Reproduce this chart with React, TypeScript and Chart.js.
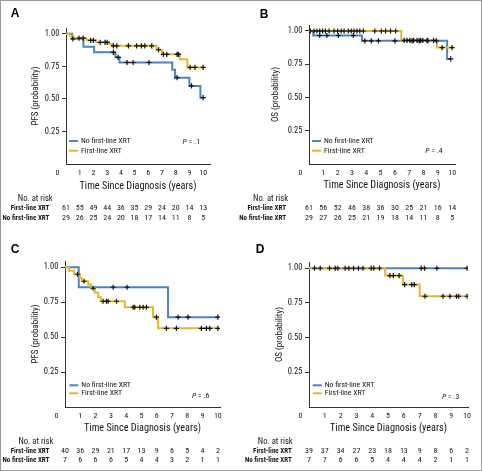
import React, { useEffect, useRef } from 'react';
import { Chart, registerables } from 'chart.js';

Chart.register(...registerables);

const BLUE = '#4a84c1';
const YELLOW = '#e4b927';
const NARROW = '"Roboto Condensed", "Liberation Sans", Arial, sans-serif';
const BOLDFONT = '"Liberation Sans", Arial, sans-serif';
const TEXT = '#151515';

const NO_LABEL = 'No first-line XRT';
const FIRST_LABEL = 'First-line XRT';
const X_TITLE = 'Time Since Diagnosis (years)';
const RISK_HEADER = 'No. at risk';

const yearTicks = [1, 2, 3, 4, 5, 6, 7, 8, 9, 10];
const riskYears = [0, 1, 2, 3, 4, 5, 6, 7, 8, 9, 10];
const probTicks = [0.25, 0.5, 0.75, 1.0];

// ---------- Panel A (PFS) ----------
const aNoTimes = [0, 0.45, 1.27, 2.05, 3.6, 3.9, 7.75, 7.95, 9.0, 9.8, 10.0];
const aNoSurv = [1, 0.962, 0.9, 0.858, 0.82, 0.78, 0.725, 0.663, 0.6, 0.51, 0.51];
const aNoCensor = [0.5, 3.45, 3.8, 4.45, 4.9, 6.05, 8.1, 9.15, 10.0];
const aFirstTimes = [0, 0.3, 0.55, 1.5, 2.2, 3.15, 3.35, 6.6, 7.0, 8.3, 8.85, 10.0];
const aFirstSurv = [1, 0.984, 0.967, 0.95, 0.935, 0.922, 0.908, 0.878, 0.843, 0.805, 0.742, 0.742];
const aFirstCensor = [0.95, 1.25, 1.8, 2.0, 2.5, 2.85, 3.0, 3.45, 3.7, 4.55, 5.15, 5.5, 5.75, 6.25, 6.75, 7.1, 7.35, 8.1, 8.2, 9.05, 9.4, 10.0];
const aRiskFirst = [61, 55, 49, 44, 36, 35, 29, 24, 20, 14, 13];
const aRiskNo = [29, 26, 25, 24, 20, 18, 17, 14, 11, 8, 5];

// ---------- Panel B (OS) ----------
const bNoTimes = [0, 0.3, 3.7, 9.65, 9.9];
const bNoSurv = [1, 0.966, 0.926, 0.79, 0.79];
const bNoCensor = [0.75, 1.25, 2.05, 3.1, 3.9, 4.35, 4.85, 6.0, 7.2, 7.7, 8.3, 8.9, 9.9];
const bFirstTimes = [0, 6.45, 8.95, 10.0];
const bFirstSurv = [1, 0.93, 0.875, 0.875];
const bFirstCensor = [0.1, 0.35, 0.55, 0.75, 0.95, 1.15, 1.4, 1.75, 2.0, 2.25, 2.45, 2.75, 2.95, 3.15, 3.35, 3.55, 3.8, 4.6, 5.05, 5.35, 5.7, 6.05, 6.65, 6.85, 7.05, 7.3, 7.55, 7.8, 7.95, 8.25, 8.7, 9.3, 10.0];
const bRiskFirst = [61, 56, 52, 46, 38, 36, 30, 25, 21, 16, 14];
const bRiskNo = [29, 27, 26, 25, 21, 19, 18, 14, 11, 8, 5];

// ---------- Panel C (PFS) ----------
const cNoTimes = [0, 0.9, 6.74, 10.0];
const cNoSurv = [1, 0.857, 0.643, 0.643];
const cNoCensor = [3.15, 4.06, 7.4, 8.05, 10.0];
const cFirstTimes = [0, 0.25, 0.6, 0.97, 1.1, 1.51, 1.7, 1.95, 2.17, 2.34, 3.91, 5.76, 6.09, 10.0];
const cFirstSurv = [1, 0.975, 0.95, 0.924, 0.9, 0.876, 0.85, 0.817, 0.786, 0.757, 0.714, 0.643, 0.563, 0.563];
const cFirstCensor = [0.82, 1.25, 1.84, 2.49, 2.71, 2.82, 3.37, 4.46, 4.56, 4.89, 5.11, 5.33, 5.98, 6.63, 7.29, 8.92, 9.25, 9.47, 10.0];
const cRiskFirst = [40, 36, 29, 21, 17, 13, 9, 6, 5, 4, 2];
const cRiskNo = [7, 6, 6, 6, 5, 4, 4, 3, 2, 1, 1];

// ---------- Panel D (OS) ----------
const dNoTimes = [0, 10.0];
const dNoSurv = [1, 1];
const dNoCensor = [7.1, 7.31, 8.09, 10.0];
const dFirstTimes = [0, 4.82, 5.94, 7.0, 10.0];
const dFirstSurv = [1, 0.947, 0.882, 0.798, 0.798];
const dFirstCensor = [0.35, 0.71, 1.3, 1.66, 1.82, 2.29, 2.52, 2.82, 3.13, 3.41, 3.93, 4.1, 4.46, 5.12, 5.34, 5.7, 6.05, 6.5, 6.66, 7.34, 8.48, 8.92, 9.33, 9.47, 10.0];
const dRiskFirst = [39, 37, 34, 27, 23, 18, 13, 9, 8, 6, 2];
const dRiskNo = [7, 7, 6, 6, 5, 4, 4, 4, 2, 1, 1];

type Series = { label: string; color: string; times: number[]; surv: number[]; censor: number[] };
type Panel = {
  letter: string;
  canvas: { x: number; y: number; w: number; h: number };
  area: { l: number; t: number; r: number; b: number };
  xMax: number;
  yMax: number;
  yTitle: string;
  yTitleX: number;
  xTitleY: number;
  letterPos: [number, number];
  legendX: number;
  legendYs: [number, number];
  pValue: string;
  pRight: number;
  pY: number;
  riskHeaderRight: number;
  riskLabelRight: number;
  riskYs: [number, number, number];
  series: Series[];
  riskFirst: number[];
  riskNo: number[];
};

const panels: Panel[] = [
  {
    letter: 'A',
    canvas: { x: 0, y: 0, w: 236, h: 234 },
    area: { l: 66, t: 28, r: 210, b: 164 },
    xMax: 10.5, yMax: 1.045,
    yTitle: 'PFS (probability)', yTitleX: 35.5, xTitleY: 186,
    letterPos: [15, 13.5],
    legendX: 69, legendYs: [141, 150.7],
    pValue: '.1', pRight: 200, pY: 142.3,
    riskHeaderRight: 52.7, riskLabelRight: 49.3, riskYs: [199, 208.3, 218.3],
    series: [
      { label: NO_LABEL, color: BLUE, times: aNoTimes, surv: aNoSurv, censor: aNoCensor },
      { label: FIRST_LABEL, color: YELLOW, times: aFirstTimes, surv: aFirstSurv, censor: aFirstCensor },
    ],
    riskFirst: aRiskFirst, riskNo: aRiskNo,
  },
  {
    letter: 'B',
    canvas: { x: 230, y: 0, w: 252, h: 234 },
    area: { l: 309, t: 25, r: 455, b: 164 },
    xMax: 10.2, yMax: 1.045,
    yTitle: 'OS (probability)', yTitleX: 276, xTitleY: 185.5,
    letterPos: [264, 15],
    legendX: 312, legendYs: [141, 150.7],
    pValue: '.4', pRight: 442.7, pY: 150.7,
    riskHeaderRight: 288, riskLabelRight: 286, riskYs: [199, 208.3, 218.3],
    series: [
      { label: NO_LABEL, color: BLUE, times: bNoTimes, surv: bNoSurv, censor: bNoCensor },
      { label: FIRST_LABEL, color: YELLOW, times: bFirstTimes, surv: bFirstSurv, censor: bFirstCensor },
    ],
    riskFirst: bRiskFirst, riskNo: bRiskNo,
  },
  {
    letter: 'C',
    canvas: { x: 0, y: 234, w: 236, h: 237 },
    area: { l: 65, t: 261, r: 220, b: 407 },
    xMax: 10.14, yMax: 1.045,
    yTitle: 'PFS (probability)', yTitleX: 36, xTitleY: 428.3,
    letterPos: [15, 250],
    legendX: 69.3, legendYs: [385.3, 393.3],
    pValue: '.6', pRight: 209.3, pY: 396,
    riskHeaderRight: 53.3, riskLabelRight: 49.3, riskYs: [441.7, 451, 460],
    series: [
      { label: NO_LABEL, color: BLUE, times: cNoTimes, surv: cNoSurv, censor: cNoCensor },
      { label: FIRST_LABEL, color: YELLOW, times: cFirstTimes, surv: cFirstSurv, censor: cFirstCensor },
    ],
    riskFirst: cRiskFirst, riskNo: cRiskNo,
  },
  {
    letter: 'D',
    canvas: { x: 230, y: 234, w: 252, h: 237 },
    area: { l: 309, t: 262, r: 468, b: 407 },
    xMax: 10.06, yMax: 1.045,
    yTitle: 'OS (probability)', yTitleX: 280, xTitleY: 428.3,
    letterPos: [260, 250],
    legendX: 312.7, legendYs: [385.3, 393.3],
    pValue: '.3', pRight: 459.3, pY: 396.7,
    riskHeaderRight: 292.7, riskLabelRight: 291.7, riskYs: [441.7, 451, 460.3],
    series: [
      { label: NO_LABEL, color: BLUE, times: dNoTimes, surv: dNoSurv, censor: dNoCensor },
      { label: FIRST_LABEL, color: YELLOW, times: dFirstTimes, surv: dFirstSurv, censor: dFirstCensor },
    ],
    riskFirst: dRiskFirst, riskNo: dRiskNo,
  },
];

// survival level of a step curve at time t (value of the last step at or before t)
function survAt(s: Series, t: number): number {
  let v = s.surv[0];
  for (let i = 0; i < s.times.length; i++) {
    if (s.times[i] <= t) v = s.surv[i];
  }
  return v;
}

const X_TICK_SIZE = 8;
const Y_TICK_SIZE = 8.5;
const X_TITLE_SIZE = 10.2;
const Y_TITLE_SIZE = 9;
const LEGEND_SIZE = 7.8;
const RISK_NUM_SIZE = 8;

function makeDecor(p: Panel) {
  return {
    id: 'kmDecor' + p.letter,
    afterDraw(chart: any) {
      const ctx: CanvasRenderingContext2D = chart.ctx;
      const ox = p.canvas.x;
      const oy = p.canvas.y;
      const area = chart.chartArea;
      const xs = chart.scales.x;
      ctx.save();
      ctx.textBaseline = 'middle';

      // panel letter
      ctx.fillStyle = '#000';
      ctx.font = `bold 12px ${BOLDFONT}`;
      ctx.textAlign = 'center';
      ctx.fillText(p.letter, p.letterPos[0] - ox, p.letterPos[1] - oy);

      // "0" at the axis corner
      ctx.fillStyle = TEXT;
      ctx.font = `${X_TICK_SIZE}px ${NARROW}`;
      ctx.textAlign = 'right';
      ctx.fillText('0', area.left - 6.5, area.bottom + 9);

      // legend
      p.series.forEach((s, i) => {
        const y = p.legendYs[i] - oy;
        const x0 = p.legendX - ox;
        ctx.strokeStyle = s.color;
        ctx.lineWidth = 2;
        ctx.beginPath();
        ctx.moveTo(x0, y);
        ctx.lineTo(x0 + 9, y);
        ctx.stroke();
        ctx.fillStyle = TEXT;
        ctx.font = `${LEGEND_SIZE}px ${NARROW}`;
        ctx.textAlign = 'left';
        ctx.fillText(s.label, x0 + 12, y);
      });

      // P value
      ctx.fillStyle = TEXT;
      ctx.font = `${LEGEND_SIZE}px ${NARROW}`;
      const rest = ' = ' + p.pValue;
      const wRest = ctx.measureText(rest).width;
      ctx.font = `italic ${LEGEND_SIZE}px ${NARROW}`;
      const wP = ctx.measureText('P').width;
      const px0 = p.pRight - ox - wRest - wP;
      ctx.textAlign = 'left';
      ctx.fillText('P', px0, p.pY - oy);
      ctx.font = `${LEGEND_SIZE}px ${NARROW}`;
      ctx.fillText(rest, px0 + wP, p.pY - oy);

      // at-risk table
      ctx.fillStyle = TEXT;
      ctx.textAlign = 'right';
      ctx.font = `8.6px ${NARROW}`;
      ctx.fillText(RISK_HEADER, p.riskHeaderRight - ox, p.riskYs[0] - oy);
      ctx.font = `bold 7px ${NARROW}`;
      ctx.fillText(FIRST_LABEL, p.riskLabelRight - ox, p.riskYs[1] - oy);
      ctx.fillText(NO_LABEL, p.riskLabelRight - ox, p.riskYs[2] - oy);
      ctx.font = `${RISK_NUM_SIZE}px ${NARROW}`;
      ctx.textAlign = 'center';
      riskYears.forEach((yr, i) => {
        const x = xs.getPixelForValue(yr);
        ctx.fillText(String(p.riskFirst[i]), x, p.riskYs[1] - oy);
        ctx.fillText(String(p.riskNo[i]), x, p.riskYs[2] - oy);
      });
      ctx.restore();
    },
  };
}

function buildConfig(p: Panel): any {
  const c = p.canvas;
  const a = p.area;
  const yW = a.l - c.x;
  const padTop = a.t - c.y;
  const padRight = c.x + c.w - a.r;
  const xLh = X_TITLE_SIZE * 1.2;
  const xH = p.xTitleY - a.b + xLh / 2;
  const padBottom = c.y + c.h - (a.b + xH);
  const yLh = Y_TITLE_SIZE * 1.2;
  const yTitlePad = p.yTitleX - c.x - yLh / 2;

  const datasets: any[] = [];
  p.series.forEach((s, idx) => {
    datasets.push({
      label: s.label,
      data: s.times.map((t, i) => ({ x: t, y: s.surv[i] })),
      borderColor: s.color,
      backgroundColor: s.color,
      borderWidth: 2,
      stepped: 'before',
      pointRadius: 0,
      fill: false,
      order: idx === 0 ? 3 : 2,
    });
  });
  p.series.forEach((s) => {
    datasets.push({
      label: s.label + ' (censored)',
      data: s.censor.map((t) => ({ x: t, y: survAt(s, t) })),
      showLine: false,
      pointStyle: 'cross',
      pointRadius: 2.6,
      pointBorderWidth: 1.2,
      borderColor: '#111',
      backgroundColor: '#111',
      order: 1,
    });
  });

  const zeroPad = (s: any) => {
    s.paddingLeft = 0;
    s.paddingRight = 0;
    s.paddingTop = 0;
    s.paddingBottom = 0;
  };

  return {
    type: 'line',
    data: { datasets },
    options: {
      responsive: false,
      maintainAspectRatio: false,
      animation: false,
      devicePixelRatio: 1,
      events: [],
      layout: { padding: { left: 0, top: padTop, right: padRight, bottom: padBottom } },
      plugins: { legend: { display: false }, tooltip: { enabled: false } },
      scales: {
        x: {
          type: 'linear',
          min: 0,
          max: p.xMax,
          afterBuildTicks: (s: any) => {
            s.ticks = yearTicks.map((v) => ({ value: v }));
          },
          afterFit: (s: any) => {
            s.height = xH;
            zeroPad(s);
          },
          ticks: {
            autoSkip: false,
            maxRotation: 0,
            padding: 4.2,
            color: TEXT,
            font: { family: NARROW, size: X_TICK_SIZE },
            callback: (v: any) => String(v),
          },
          grid: { display: false, drawTicks: false },
          border: { display: true, color: '#333', width: 1 },
          title: {
            display: true,
            text: X_TITLE,
            color: TEXT,
            font: { family: NARROW, size: X_TITLE_SIZE },
            padding: { top: 0, bottom: 0 },
          },
        },
        y: {
          type: 'linear',
          min: 0,
          max: p.yMax,
          afterBuildTicks: (s: any) => {
            s.ticks = probTicks.map((v) => ({ value: v }));
          },
          afterFit: (s: any) => {
            s.width = yW;
            zeroPad(s);
          },
          ticks: {
            padding: 2.5,
            color: TEXT,
            font: { family: NARROW, size: Y_TICK_SIZE },
            callback: (v: any) => Number(v).toFixed(2),
          },
          grid: { display: true, drawOnChartArea: false, drawTicks: true, tickLength: 4, color: '#333', lineWidth: 1 },
          border: { display: true, color: '#333', width: 1 },
          title: {
            display: true,
            text: p.yTitle,
            color: TEXT,
            font: { family: NARROW, size: Y_TITLE_SIZE },
            padding: { top: yTitlePad, bottom: 0 },
          },
        },
      },
    },
    plugins: [makeDecor(p)],
  };
}

function KMPanel({ panel }: { panel: Panel }) {
  const ref = useRef<HTMLCanvasElement | null>(null);
  useEffect(() => {
    if (!ref.current) return;
    const chart = new Chart(ref.current, buildConfig(panel));
    return () => chart.destroy();
  }, [panel]);
  const c = panel.canvas;
  return (
    <canvas
      ref={ref}
      width={c.w}
      height={c.h}
      style={{ position: 'absolute', left: c.x, top: c.y, width: c.w, height: c.h }}
    />
  );
}

export default function App() {
  return (
    <div style={{ position: 'absolute', left: 0, top: 0, width: 482, height: 471, background: '#fff', overflow: 'hidden' }}>
      {panels.map((p) => (
        <KMPanel key={p.letter} panel={p} />
      ))}
      <div
        style={{
          position: 'absolute',
          left: 0,
          top: 0,
          width: 482,
          height: 471,
          boxSizing: 'border-box',
          border: '1px solid #9a9a9a',
          pointerEvents: 'none',
        }}
      />
    </div>
  );
}
